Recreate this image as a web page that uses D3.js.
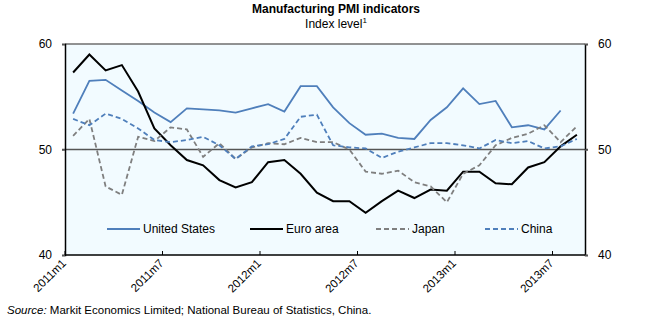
<!DOCTYPE html>
<html><head><meta charset="utf-8">
<script src="https://cdn.jsdelivr.net/npm/d3@7"></script>
<style>
body{margin:0;background:#fff;}
svg{display:block;font-family:"Liberation Sans",Arial,sans-serif;}
</style></head><body>
<svg id="c" width="653" height="325"></svg>
<script>
const months = [];
for (const yr of [2011, 2012, 2013]) for (let m = 1; m <= 12; m++) months.push(yr + "m" + m);
const categories = months.slice(0, 32); // 2011m1 .. 2013m8
const tickLabels = ["2011m1","2011m7","2012m1","2012m7","2013m1","2013m7"];
const yTicks = [40, 50, 60];

const unitedStates = [53.4,56.5,56.6,55.6,54.6,53.5,52.6,53.9,53.8,53.7,53.5,53.9,54.3,53.6,56.0,56.0,54.0,52.5,51.4,51.5,51.1,51.0,52.8,54.0,55.8,54.3,54.6,52.1,52.3,51.9,53.7];
const euroArea = [57.3,59.0,57.5,58.0,55.5,52.0,50.4,49.0,48.5,47.1,46.4,46.9,48.8,49.0,47.7,45.9,45.1,45.1,44.0,45.1,46.1,45.4,46.2,46.1,47.9,47.9,46.8,46.7,48.3,48.8,50.3,51.4];
const japan = [51.3,52.9,46.5,45.7,51.2,50.8,52.1,51.9,49.3,50.6,49.1,50.2,50.6,50.5,51.1,50.7,50.7,50.0,47.9,47.7,48.0,46.9,46.5,45.0,47.7,48.5,50.4,51.1,51.5,52.3,50.7,52.2];
const china = [52.9,52.3,53.4,52.9,52.0,50.9,50.7,50.9,51.2,50.4,49.1,50.3,50.5,51.0,53.1,53.3,50.4,50.2,50.1,49.2,49.8,50.2,50.6,50.6,50.4,50.1,50.9,50.6,50.8,50.1,50.3,51.0];

const seriesNames = ["United States","Euro area","Japan","China"];
const seriesData = [unitedStates, euroArea, japan, china];
const seriesColor = ["#4f7fbb","#000000","#7f7f7f","#4f7fbb"];
const seriesDash = [null, null, "5,3", "5,3"];

const svg = d3.select("#c");
const L = 65, R = 585, T = 44, B = 255;

const x = d3.scaleBand().domain(categories).range([L, R]);
const y = d3.scaleLinear().domain([40, 60]).range([B, T]);

// plot background
svg.append("rect").attr("x", L).attr("y", T).attr("width", R - L).attr("height", B - T)
  .attr("fill", "#f2fbff");

// top border
svg.append("line").attr("x1", L).attr("x2", R).attr("y1", T).attr("y2", T)
  .attr("stroke", "#6e6e6e").attr("stroke-width", 1.5);

// 50 reference line
svg.append("line").attr("x1", L - 3).attr("x2", R + 3).attr("y1", y(50)).attr("y2", y(50))
  .attr("stroke", "#555").attr("stroke-width", 1.5);

// series
const line = d3.line().x((d, i) => x(categories[i]) + x.bandwidth() / 2).y(d => y(d));
seriesData.forEach((s, k) => {
  svg.append("path").datum(s).attr("d", line).attr("fill", "none")
    .attr("stroke", seriesColor[k]).attr("stroke-width", k === 1 ? 2 : 1.8)
    .attr("stroke-dasharray", seriesDash[k]).attr("stroke-linejoin", "miter");
});

// y axes
const yl = svg.append("g").attr("transform", `translate(${L},0)`)
  .call(d3.axisLeft(y).tickValues(yTicks).tickSize(3).tickPadding(10));
const yr = svg.append("g").attr("transform", `translate(${R},0)`)
  .call(d3.axisRight(y).tickValues(yTicks).tickSize(3).tickPadding(10));
[yl, yr].forEach(g => {
  g.select(".domain").attr("stroke", "#000").attr("stroke-width", 1.5);
  g.selectAll(".tick line").attr("stroke", "#555").attr("stroke-width", 1.5);
  g.selectAll("text").attr("font-size", 12).attr("fill", "#000")
    .attr("font-family", "'Liberation Sans',Arial,sans-serif");
});

// x axis
const xg = svg.append("g");
xg.append("line").attr("x1", L).attr("x2", R).attr("y1", B).attr("y2", B)
  .attr("stroke", "#000").attr("stroke-width", 1.5);
xg.selectAll(".xt").data(tickLabels).join("line").attr("class", "xt")
  .attr("x1", d => x(d)).attr("x2", d => x(d)).attr("y1", B).attr("y2", B - 4)
  .attr("stroke", "#000").attr("stroke-width", 1);
xg.selectAll(".xl").data(tickLabels).join("text").attr("class", "xl")
  .attr("transform", d => `translate(${x(d) - 1},${B + 6}) rotate(-45)`)
  .attr("text-anchor", "end").attr("dy", "0.35em")
  .attr("font-size", 11.5).attr("fill", "#000").text(d => d);

// legend
const legX = [107, 250, 376, 485];
const legY = 229;
seriesNames.forEach((n, k) => {
  svg.append("line").attr("x1", legX[k]).attr("x2", legX[k] + 33).attr("y1", legY).attr("y2", legY)
    .attr("stroke", seriesColor[k]).attr("stroke-width", 1.8).attr("stroke-dasharray", seriesDash[k]);
  svg.append("text").attr("x", legX[k] + 36).attr("y", legY).attr("dy", "0.35em")
    .attr("font-size", 12).attr("fill", "#000").text(n);
});

// title
svg.append("text").attr("x", 336).attr("y", 13).attr("text-anchor", "middle")
  .attr("font-size", 12).attr("font-weight", "bold").text("Manufacturing PMI indicators");
const sub = svg.append("text").attr("x", 336).attr("y", 28).attr("text-anchor", "middle").attr("font-size", 12);
sub.append("tspan").text("Index level");
sub.append("tspan").attr("font-size", 8).attr("dy", -5).text("1");

// source
const src = svg.append("text").attr("x", 7).attr("y", 314).attr("font-size", 11.5);
src.append("tspan").attr("font-style", "italic").text("Source:");
src.append("tspan").text(" Markit Economics Limited; National Bureau of Statistics, China.");
</script>
</body></html>
